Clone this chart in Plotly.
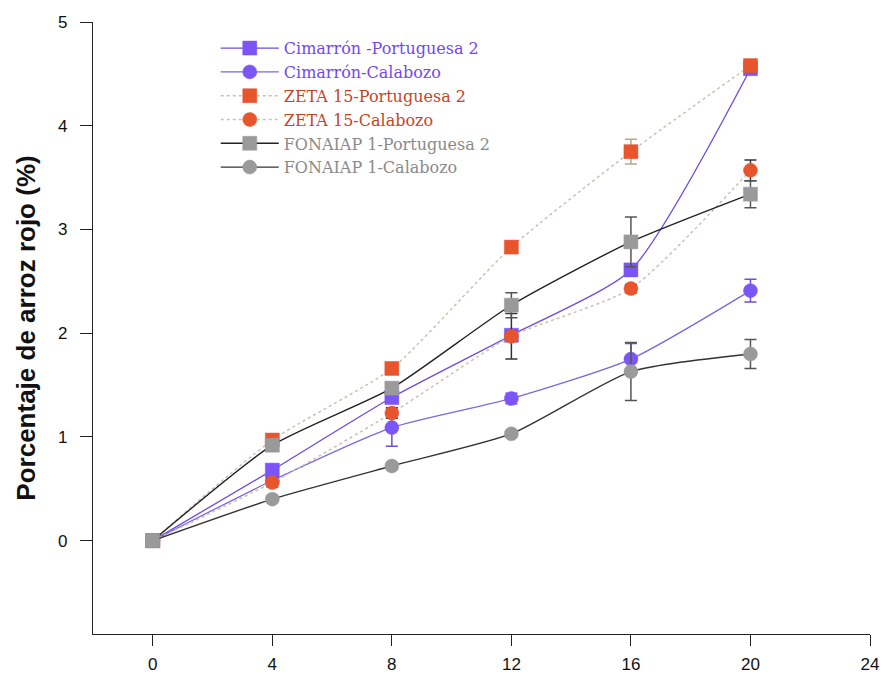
import plotly.graph_objects as go

weeks = [0, 4, 8, 12, 16, 20]

names = ["Cimarrón -Portuguesa 2", "Cimarrón-Calabozo", "ZETA 15-Portuguesa 2",
         "ZETA 15-Calabozo", "FONAIAP 1-Portuguesa 2", "FONAIAP 1-Calabozo"]

cim_port = [0, 0.68, 1.38, 1.98, 2.61, 4.55]
cim_cal = [0, 0.58, 1.09, 1.37, 1.75, 2.41]
zeta_port = [0, 0.97, 1.66, 2.83, 3.75, 4.58]
zeta_cal = [0, 0.56, 1.23, 1.97, 2.43, 3.57]
fon_port = [0, 0.92, 1.47, 2.27, 2.88, 3.34]
fon_cal = [0, 0.40, 0.72, 1.03, 1.63, 1.80]

err_cim_port = [0, 0.03, 0.05, 0.05, 0.06, 0.05]
err_cim_cal = [0, 0.04, 0.18, 0.05, 0.15, 0.11]
err_zeta_port = [0, 0.03, 0.05, 0.05, 0.12, 0.03]
err_zeta_cal = [0, 0.04, 0.05, 0.22, 0.04, 0.10]
err_fon_port = [0, 0.04, 0.05, 0.12, 0.24, 0.13]
err_fon_cal = [0, 0.03, 0.03, 0.03, 0.28, 0.14]

series = [
    (cim_port, err_cim_port, "square", "#7b55f5", "#6a4ce0", "solid", 1.3, "#6a4ce0", "#7448ee"),
    (cim_cal, err_cim_cal, "circle", "#7b55f5", "#7a66e0", "solid", 1.3, "#6a4ce0", "#7448ee"),
    (zeta_port, err_zeta_port, "square", "#e8542c", "#c9c2b2", "dot", 1.5, "#b0a890", "#c8441f"),
    (zeta_cal, err_zeta_cal, "circle", "#e8542c", "#c9c2b2", "dot", 1.5, "#333333", "#c8441f"),
    (fon_port, err_fon_port, "square", "#9a9a9a", "#222222", "solid", 1.4, "#555555", "#8a8a8a"),
    (fon_cal, err_fon_cal, "circle", "#9a9a9a", "#333333", "solid", 1.4, "#555555", "#8a8a8a"),
]

fig = go.Figure()
for name, (vals, errs, sym, mcol, lcol, dash, lw, ecol, tcol) in zip(names, series):
    fig.add_trace(go.Scatter(
        x=weeks, y=vals, mode="lines+markers",
        name=f'<span style="color:{tcol}">{name}</span>',
        line=dict(color=lcol, width=lw, dash=dash, shape="spline", smoothing=0.6),
        marker=dict(symbol=sym, size=14, color=mcol, line=dict(color=mcol, width=0.5)),
        error_y=dict(type="data", array=errs, visible=True, color=ecol, thickness=1.5, width=6),
    ))

tickfont = dict(family="Liberation Sans", size=17, color="#111")
fig.update_layout(
    width=884, height=675,
    margin=dict(l=93, r=14, t=22, b=41, autoexpand=False),
    paper_bgcolor="white", plot_bgcolor="white",
    showlegend=True,
    legend=dict(x=0.158, y=0.985, xanchor="left", yanchor="top",
                font=dict(family="DejaVu Serif", size=16, color="#555"),
                bgcolor="rgba(0,0,0,0)", tracegroupgap=0, itemwidth=58),
    xaxis=dict(range=[-2, 24], tickvals=[0, 4, 8, 12, 16, 20, 24], showgrid=False, zeroline=False,
               automargin=False,
               showline=True, linecolor="#222", linewidth=1.3, ticks="outside", ticklen=11,
               tickcolor="#222", tickfont=tickfont, ticklabelstandoff=3),
    yaxis=dict(range=[-0.9, 5], tickvals=[0, 1, 2, 3, 4, 5], showgrid=False, zeroline=False,
               automargin=False,
               showline=True, linecolor="#222", linewidth=1.3, ticks="outside", ticklen=12,
               tickcolor="#222", tickfont=tickfont, ticklabelstandoff=9,
               title=dict(text="<b>Porcentaje de arroz rojo (%)</b>", standoff=14,
                          font=dict(family="Liberation Sans", size=26, color="#111"))),
)

fig.write_html("out.html")
